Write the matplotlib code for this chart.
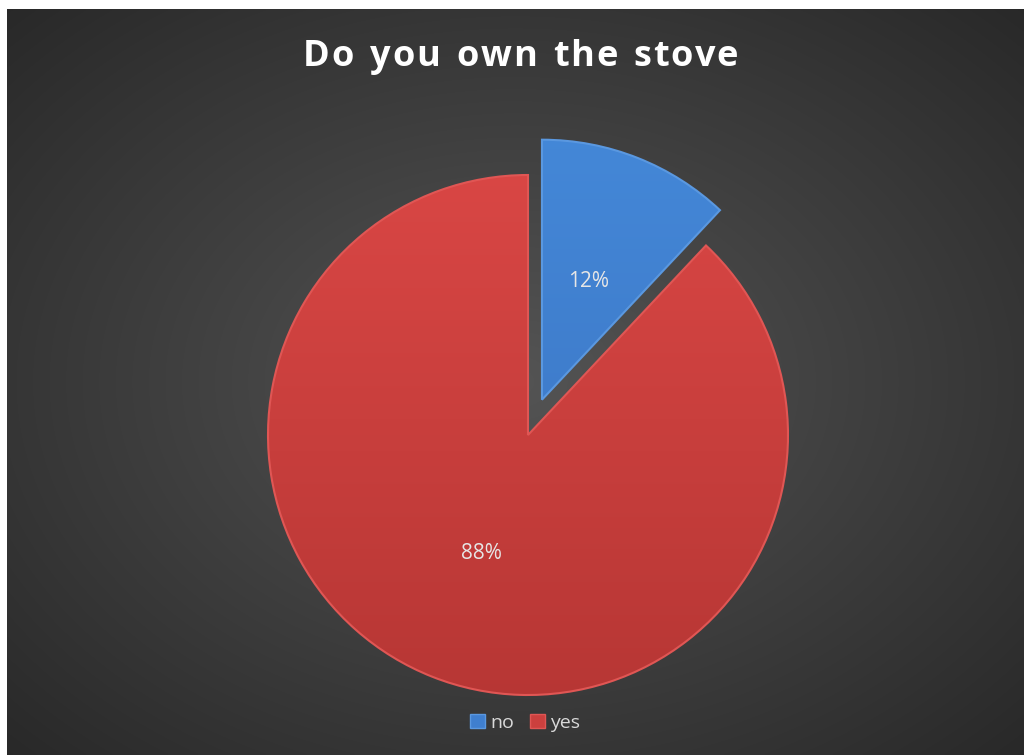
#!/usr/bin/env python3
# Pie chart: "Do you own the stove"

import numpy as np
import matplotlib
matplotlib.use('Agg')
import matplotlib.pyplot as plt
from matplotlib.patches import Patch
from matplotlib.colors import to_rgb

labels = ['no', 'yes']
values = [12, 88]
colors = ['#3f7fcf', '#cc403e']
# top / bottom shades for the gradient fill of each slice
grad_top = ['#4488d8', '#dc4846']
grad_bot = ['#396fbd', '#b43533']
edge_colors = ['#5a98e0', '#e05654']
explode = [0.146, 0.0]
title = 'Do you own the stove'


def spaced_title(fig, text, xc, yc, width_px, **kw):
  # Draw text one letter at a time so the letters spread over width_px
  r = fig.canvas.get_renderer()
  W = fig.get_figwidth() * fig.dpi
  widths = []
  for ch in text:
    t = fig.text(0, 0, ch if ch != ' ' else 'n', **kw)
    widths.append(t.get_window_extent(r).width * (0.55 if ch == ' ' else 1.0))
    t.remove()
  gap = (width_px - sum(widths)) / (len(text) - 1)
  x = xc - width_px / 2
  for ch, w in zip(text, widths):
    fig.text(x / W, yc, ch, ha='left', va='center', **kw)
    x += w + gap


def main():
  W, H = 1024, 755
  fig = plt.figure(figsize=(W / 100, H / 100), dpi=100)
  fig.patch.set_facecolor('white')

  # Dark radial gradient background (thin white strip left and top)
  x0, y0 = 7, 9
  bg = fig.add_axes([x0 / W, 0, (W - x0) / W, (H - y0) / H])
  gx = np.linspace(-1, 1, 400)
  gy = np.linspace(-1, 1, 300)
  xx, yy = np.meshgrid(gx, gy)
  r = np.sqrt(xx ** 2 + yy ** 2) / np.sqrt(2)
  shade = 0.33 - 0.17 * r
  bg.imshow(np.dstack([shade, shade, shade]), extent=[0, 1, 0, 1],
            aspect='auto', interpolation='bilinear')
  bg.set_axis_off()

  # Pie axes: centre of the un-exploded slice at (528, 435) px, radius 260 px
  cx, cy, rad = 528, 435, 260
  half = 300
  ax = fig.add_axes([(cx - half) / W, 1 - (cy + half) / H,
                     2 * half / W, 2 * half / H])
  wedges, texts, autotexts = ax.pie(
    values, colors=colors, explode=explode, startangle=90,
    counterclock=False, autopct='%d%%', pctdistance=0.49,
    wedgeprops=dict(linewidth=1.5),
    textprops=dict(color='#e6e6e6', fontsize=15, family='Open Sans'))
  lim = half / rad

  # vertical gradient inside each slice
  for w, top, bot, ec in zip(wedges, grad_top, grad_bot, edge_colors):
    w.set_edgecolor(ec)
    t, b = np.array(to_rgb(top)), np.array(to_rgb(bot))
    f = np.linspace(0, 1, 256)[:, None]
    g = (t * (1 - f) + b * f)[:, None, :].repeat(2, axis=1)
    im = ax.imshow(g, extent=[-lim, lim, -1.2, 1.2], aspect='auto',
                   interpolation='bilinear', zorder=w.get_zorder() + 0.1)
    im.set_clip_path(w)
    w.set_facecolor('none')
    w.set_zorder(w.get_zorder() + 0.2)
  for t in autotexts:
    t.set_zorder(5)

  ax.set_xlim(-lim, lim)
  ax.set_ylim(-lim, lim)
  ax.set_aspect('equal')
  ax.set_axis_off()

  spaced_title(fig, title, 520.5, 1 - 57 / H, 435, color='white',
               fontsize=26, fontweight='bold', family='Open Sans')

  handles = [Patch(facecolor=c, edgecolor=e) for c, e in zip(colors, edge_colors)]
  leg = fig.legend(handles, labels, loc='center', bbox_to_anchor=(0.513, 0.043),
                   ncol=2, frameon=False, handlelength=0.75, handleheight=0.75,
                   handletextpad=0.3, columnspacing=0.8,
                   prop=dict(family='Open Sans', size=14))
  for t in leg.get_texts():
    t.set_color('#d9d9d9')

  plt.savefig('out.png', dpi=100)


if __name__ == '__main__':
  main()
